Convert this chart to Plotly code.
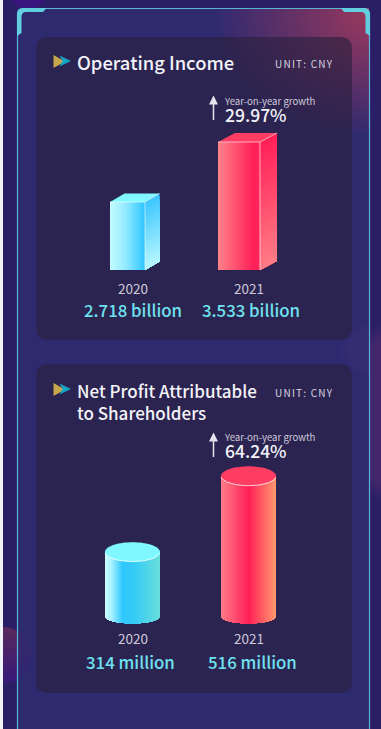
import base64, struct, zlib
import numpy as np
import plotly.graph_objects as go

# ---- data ----
years = ["2020", "2021"]
income_billion = [2.718, 3.533]
profit_million = [314, 516]
income_growth = "29.97%"
profit_growth = "64.24%"
title_income = "Operating Income"
title_profit = ["Net Profit Attributable", "to Shareholders"]
unit_label = "UNIT: CNY"
growth_label = "Year-on-year growth"

W, H = 381, 729
FONT = "Noto Sans CJK SC"

# value axes (truncated, as the picture's bars are): baseline value and px per unit
INC_BASE_V, INC_BASE_PX, INC_SCALE = 1.794, 270.0, 73.6
PRO_BASE_V, PRO_BASE_PX, PRO_SCALE = 141.0, 617.0, 0.376


def hexrgb(h):
    h = h.lstrip("#")
    return np.array([int(h[i:i + 2], 16) for i in (0, 2, 4)], float)


def grad(stops, t):
    ts = [s[0] for s in stops]
    cs = np.array([hexrgb(s[1]) for s in stops])
    return "rgb(%d,%d,%d)" % tuple(np.interp(t, ts, cs[:, i]) for i in range(3))


# ---- decorative page background as a small raster ----
def background():
    yy, xx = np.mgrid[0:H, 0:W] + 0.5
    img = np.zeros((H, W, 3)) + hexrgb("#2a1f66")
    inner = (xx > 17.5) & (xx < 369.5) & (yy > 8)
    img[inner] = hexrgb("#2d2a70")
    outer_right = xx >= 369.5

    def blend(mask_a, col):
        c = hexrgb(col)
        img[:] = img * (1 - mask_a[..., None]) + c * mask_a[..., None]

    # pink glow, top right, only inside the frame
    d = np.hypot((xx - 375) / 165, (yy - 15) / 125)
    a = np.clip(1 - d, 0, 1) * 0.95
    blend(a * inner, "#a33a5c")
    # soft purple wash, right side, outside the frame
    d = np.hypot((xx - 425) / 100, (yy - 412) / 100)
    blend(np.clip((1 - d) * 6, 0, 1) * 0.75 * outer_right, "#4c2a6e")
    d = np.hypot((xx - 385) / 50, (yy - 350) / 32)
    blend(np.clip((1 - d) * 4, 0, 1) * 0.2 * inner, "#55357f")
    # left blob, stronger outside the frame
    d = np.hypot(xx - 3, yy - 655)
    t = np.clip((yy - 628) / 55, 0, 1)[..., None]
    col = hexrgb("#5e2a5c") * (1 - t) + hexrgb("#37187c") * t
    a = np.clip(28.5 - d, 0, 1) * np.where(inner, 0.22, 0.9)
    img[:] = img * (1 - a[..., None]) + col * a[..., None]
    # small blob, top left
    d = np.hypot(xx - 28, yy + 10)
    blend(np.clip(20 - d, 0, 1) * 0.9, "#3a1480")
    img[:, :3] = hexrgb("#f1f3fb")

    px = np.clip(img, 0, 255).astype(np.uint8)
    raw = b"".join(b"\x00" + px[r].tobytes() for r in range(H))

    def chunk(t, d):
        return struct.pack(">I", len(d)) + t + d + struct.pack(">I", zlib.crc32(t + d))

    png = (b"\x89PNG\r\n\x1a\n" + chunk(b"IHDR", struct.pack(">IIBBBBB", W, H, 8, 2, 0, 0, 0))
           + chunk(b"IDAT", zlib.compress(raw, 9)) + chunk(b"IEND", b""))
    return "data:image/png;base64," + base64.b64encode(png).decode()


fig = go.Figure()


class Axis:
    def __init__(self, name, base_v, base_px, scale):
        self.name, self.base_v, self.base_px, self.scale = name, base_v, base_px, scale

    def val(self, p):
        return self.base_v + (self.base_px - np.asarray(p, float)) / self.scale

    def px(self, v):
        return self.base_px - (v - self.base_v) * self.scale

    def rng(self):
        return [float(self.val(H)), float(self.val(0))]


inc = Axis("y2", INC_BASE_V, INC_BASE_PX, INC_SCALE)
pro = Axis("y3", PRO_BASE_V, PRO_BASE_PX, PRO_SCALE)


def poly(ax, xs, pys, color):
    fig.add_trace(go.Scatter(x=list(xs), y=list(ax.val(pys)), yaxis=ax.name, mode="none", fill="toself",
                             fillcolor=color, hoverinfo="skip", showlegend=False))


def edge(ax, xs, pys, color="rgba(255,255,255,0.75)", w=0.8):
    fig.add_trace(go.Scatter(x=list(xs), y=list(ax.val(pys)), yaxis=ax.name, mode="lines",
                             line=dict(color=color, width=w), hoverinfo="skip", showlegend=False))


def box(ax, value, xl, xr, depth, dy, front, side, topc):
    yt = ax.px(value)
    yb = ax.base_px
    xs = np.arange(xl, xr) + 0.5
    ts = (xs - xl) / (xr - xl)
    fig.add_trace(go.Bar(x=xs, y=[value - ax.base_v] * len(xs), base=[ax.base_v] * len(xs), width=1.0,
                         yaxis=ax.name, marker=dict(color=[grad(front, t) for t in ts], line=dict(width=0)),
                         hoverinfo="skip", showlegend=False))
    n = 28
    levels = np.linspace(yt, yb, n + 1)
    # each band runs to the bottom and is painted over by the next, so no seams show
    for i in range(n):
        a = levels[i]
        poly(ax, [xr, xr + depth, xr + depth, xr, xr], [a, a - dy, yb - dy, yb, a], grad(side, (i + .5) / n))
    poly(ax, [xl, xl + depth, xr + depth, xr, xl], [yt, yt - dy, yt - dy, yt, yt], topc)
    edge(ax, [xl, xr, xr + depth], [yt, yt, yt - dy])
    edge(ax, [xr, xr], [yt, yb])


def cylinder(ax, value, xl, xr, ry_top, ry_bot, body, topc):
    yc = ax.px(value)
    cx, rx = (xl + xr) / 2, (xr - xl) / 2
    xs = np.arange(xl, xr) + 0.5
    ts = (xs - xl) / (xr - xl)
    u = (xs - cx) / rx
    bottom_px = ax.base_px + ry_bot * np.sqrt(np.clip(1 - u * u, 0, 1))
    bases = ax.val(bottom_px)
    fig.add_trace(go.Bar(x=xs, y=value - bases, base=bases, width=1.0, yaxis=ax.name,
                         marker=dict(color=[grad(body, t) for t in ts], line=dict(width=0)),
                         hoverinfo="skip", showlegend=False))
    th = np.linspace(0, 2 * np.pi, 73)
    poly(ax, cx + rx * np.cos(th), yc + ry_top * np.sin(th), topc)
    th2 = np.linspace(0.04 * np.pi, 0.96 * np.pi, 41)
    edge(ax, cx + rx * np.cos(th2), yc + ry_top * np.sin(th2), "rgba(255,255,255,0.85)", 0.9)


BLUE_F = [(0, "#c6fdff"), (0.45, "#94eaff"), (1, "#2bc6ff")]
BLUE_S = [(0, "#3cc6ff"), (1, "#b8f8ff")]
RED_F = [(0, "#ff8289"), (0.85, "#ff1f58"), (1, "#ff2a5e")]
RED_S = [(0, "#ff1f58"), (1, "#ff7d86")]
box(inc, income_billion[0], 110, 145, 14.5, 8.5, BLUE_F, BLUE_S, "#7ff9ff")
box(inc, income_billion[1], 218, 260, 17, 9, RED_F, RED_S, "#ff3c62")
cylinder(pro, profit_million[0], 105, 160, 9.7, 6.8,
         [(0, "#ccfeff"), (0.12, "#a8f2ff"), (0.32, "#2ec8ff"), (0.55, "#38ccf6"), (1, "#6adfdc")], "#7ff9ff")
cylinder(pro, profit_million[1], 221, 276, 9.7, 6.8,
         [(0, "#ff7d88"), (0.5, "#ff2058"), (1, "#ff9a6e")], "#ff3d62")


# ---- panels and frame ----
def rrect(x0, y0, x1, y1, r):
    return (f"M{x0+r},{y0} L{x1-r},{y0} Q{x1},{y0} {x1},{y0+r} L{x1},{y1-r} Q{x1},{y1} {x1-r},{y1} "
            f"L{x0+r},{y1} Q{x0},{y1} {x0},{y1-r} L{x0},{y0+r} Q{x0},{y0} {x0+r},{y0} Z")


shapes = []
for y0, y1 in ((37, 340), (364, 693)):
    shapes.append(dict(type="path", path=rrect(36, y0, 352, y1, 12), fillcolor="rgba(42,33,62,0.62)",
                       line=dict(width=0), layer="below", xref="x", yref="y"))
FRAME = "#5ab4d6"
ACC = "#62cfe0"
shapes.append(dict(type="path", path="M17.5,729 L17.5,14 Q17.5,8.5 23,8.5 L364,8.5 Q369.5,8.5 369.5,14 L369.5,729",
                   line=dict(color=FRAME, width=1.2), layer="below", xref="x", yref="y"))
shapes.append(dict(type="path", layer="below", xref="x", yref="y", fillcolor=ACC, line=dict(width=0),
                   path="M17,36 L17,15 Q17,8 24,8 L46.5,8 L43,12 L26,12 Q21.5,12 21.5,17 L21.5,33 Z"))
shapes.append(dict(type="path", layer="below", xref="x", yref="y", fillcolor=ACC, line=dict(width=0),
                   path="M370,36 L370,15 Q370,8 363,8 L341,8 L344,12 L361,12 Q365.5,12 365.5,17 L365.5,33 Z"))

# title marker triangles
for oy in (0, 328):
    shapes.append(dict(type="path", layer="above", xref="x", yref="y", fillcolor="#c6a84e", line=dict(width=0),
                       path=f"M53.5,{55+oy} L53.5,{68+oy} L65,{61.5+oy} Z"))
    shapes.append(dict(type="path", layer="above", xref="x", yref="y", fillcolor="rgba(20,175,205,0.92)",
                       line=dict(width=0), path=f"M59.5,{55.5+oy} L71,{61+oy} L59.5,{66.5+oy} L62.5,{61+oy} Z"))

# ---- text ----
ann = []


def text(s, x, y, size, color, anchor="left", weight=400, align="left"):
    ann.append(dict(text=s, x=x, y=y, xref="x", yref="y", xanchor=anchor, yanchor="middle", showarrow=False,
                    align=align, font=dict(family=FONT, size=size, color=color, weight=weight)))


WHITE, GREY, CYAN = "#f4f3f8", "#cfcada", "#6fe2f0"
text(title_income, 74.5, 62, 18.4, WHITE, weight=500)
text("<br>".join(title_profit), 74.5, 401, 17, WHITE, weight=500)
for y in (63, 392):
    text(f'<span style="letter-spacing:1.25px">{unit_label}</span>', 335, y, 10, "#d8d4e0", "right")


def growth(value, y):
    s = (f'<span style="font-size:9.6px;fill:{GREY}">{growth_label}</span><br>'
         f'<span style="font-size:17.5px;font-weight:500">{value}</span>')
    text(s, 221.5, y, 13, WHITE)


growth(income_growth, 110.5)
growth(profit_growth, 446)
for yr, v, cx, vx in zip(years, income_billion, (133, 249), (133, 250.5)):
    text(yr, cx, 287.5, 13.5, GREY, "center")
    text(f"{v:.3f} billion", vx, 310, 16.8, CYAN, "center", 500)
for yr, v, cx, vx in zip(years, profit_million, (133, 249), (130.5, 252)):
    text(yr, cx, 637.5, 13.5, GREY, "center")
    text(f"{v} million", vx, 662, 16.8, CYAN, "center", 500)
for y0, y1 in ((121.5, 95.5), (458.5, 432.5)):
    ann.append(dict(x=213.5, y=y1, ax=213.5, ay=y0, xref="x", yref="y", axref="x", ayref="y", text="",
                    showarrow=True, arrowhead=2, arrowsize=1.2, arrowwidth=1.5, arrowcolor="#e6e3ec"))

fig.update_layout(
    width=W, height=H, margin=dict(l=0, r=0, t=0, b=0), showlegend=False, barmode="overlay", bargap=0,
    paper_bgcolor="#2a1f66", plot_bgcolor="rgba(0,0,0,0)", shapes=shapes, annotations=ann,
    images=[dict(source=background(), xref="paper", yref="paper", x=0, y=1, sizex=1, sizey=1, sizing="stretch",
                 xanchor="left", yanchor="top", layer="below")],
    xaxis=dict(range=[0, W], visible=False, fixedrange=True),
    yaxis=dict(range=[H, 0], visible=False, fixedrange=True),
    yaxis2=dict(range=inc.rng(), overlaying="y", visible=False, fixedrange=True),
    yaxis3=dict(range=pro.rng(), overlaying="y", visible=False, fixedrange=True),
)
# keep the canvas axis alive for shapes and annotations
fig.add_trace(go.Scatter(x=[0], y=[0], mode="markers", marker=dict(opacity=0), hoverinfo="skip", showlegend=False))

fig.write_html("out.html", config=dict(displayModeBar=False),
               post_script="document.body.style.margin='0';document.body.style.overflow='hidden';")
